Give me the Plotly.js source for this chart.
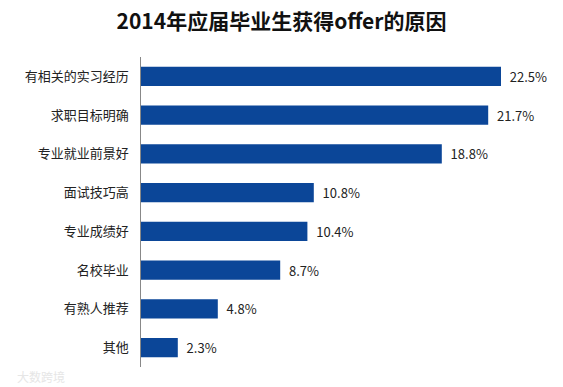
<!DOCTYPE html>
<html>
<head>
<meta charset="utf-8">
<script src="https://cdn.plot.ly/plotly-3.0.1.min.js"></script>
<style>html,body{margin:0;padding:0;background:#fff;}#chart{width:563px;height:387px;}</style>
</head>
<body>
<div id="chart"></div>
<script>
var categories = ["有相关的实习经历", "求职目标明确", "专业就业前景好", "面试技巧高", "专业成绩好", "名校毕业", "有熟人推荐", "其他"];
var values = [22.5, 21.7, 18.8, 10.8, 10.4, 8.7, 4.8, 2.3];
var valueLabels = ["22.5%", "21.7%", "18.8%", "10.8%", "10.4%", "8.7%", "4.8%", "2.3%"];
var titleText = "2014年应届毕业生获得offer的原因";

var font = "Noto Sans CJK SC, Noto Sans, sans-serif";

var trace = {
  type: "bar",
  orientation: "h",
  y: categories,
  x: values,
  text: valueLabels,
  texttemplate: "\u00a0\u00a0%{text}",
  textposition: "outside",
  cliponaxis: false,
  textfont: {family: font, size: 13, color: "#222"},
  marker: {color: "#0b4698"},
  width: 0.5,
  hoverinfo: "none"
};

var layout = {
  width: 563,
  height: 387,
  margin: {l: 141, r: 22, t: 57, b: 20},
  paper_bgcolor: "#fff",
  plot_bgcolor: "#fff",
  showlegend: false,
  title: {
    text: "<b>" + titleText + "</b>",
    font: {family: font, size: 21, color: "#111"},
    x: 0.5, xref: "container", xanchor: "center",
    y: 0.945, yref: "container", yanchor: "middle"
  },
  xaxis: {
    range: [0, 25],
    visible: false,
    fixedrange: true
  },
  yaxis: {
    autorange: "reversed",
    showline: true,
    linecolor: "#888",
    linewidth: 1,
    ticks: "",
    tickmode: "array",
    tickvals: categories,
    ticktext: categories.map(function (c) { return c + "\u00a0\u00a0\u00a0"; }),
    showgrid: false,
    zeroline: false,
    tickfont: {family: font, size: 13, color: "#222"}
  },
  annotations: [{
    text: "大数跨境",
    xref: "paper", yref: "paper",
    x: -0.25, y: -0.032, xanchor: "center", yanchor: "middle",
    showarrow: false,
    font: {family: font, size: 12, color: "#e6e6e6"}
  }]
};

Plotly.newPlot("chart", [trace], layout, {displayModeBar: false, staticPlot: true});
</script>
</body>
</html>
